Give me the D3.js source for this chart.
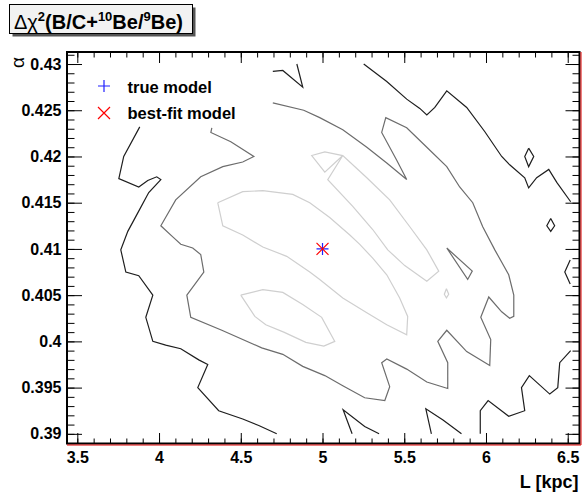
<!DOCTYPE html>
<html>
<head>
<meta charset="utf-8">
<script src="https://cdn.jsdelivr.net/npm/d3@7/dist/d3.min.js"></script>
<style>
body { margin: 0; background: #fff; }
text { font-family: "Liberation Sans", Arial, Helvetica, sans-serif; font-weight: bold; }
</style>
</head>
<body>
<div id="chart"></div>
<script>
// axis ticks
var xTicks = [3.5, 4, 4.5, 5, 5.5, 6, 6.5];
var xTickLabels = ["3.5", "4", "4.5", "5", "5.5", "6", "6.5"];
var yTicks = [0.39, 0.395, 0.4, 0.405, 0.41, 0.415, 0.42, 0.425, 0.43];
var yTickLabels = ["0.39", "0.395", "0.4", "0.405", "0.41", "0.415", "0.42", "0.425", "0.43"];

// models, [L, alpha]
var trueModel = [5.0, 0.41];
var bestFitModel = [5.0, 0.41];

// contour lines, [L, alpha]
var contoursOuter = [
  [[3.882,0.4232],[3.784,0.4200],[3.754,0.4176],[3.876,0.4167],[3.931,0.4174],[3.986,0.4178],[4.011,0.4175],[3.937,0.4161],[3.870,0.4139],[3.809,0.4119],[3.766,0.4099],[3.797,0.4075],[3.876,0.4071],[3.962,0.4050],[3.919,0.4026],[3.962,0.4000],[4.041,0.3996],[4.133,0.3992],[4.243,0.3980],[4.298,0.3975],[4.237,0.3950],[4.365,0.3925],[4.512,0.3916],[4.610,0.3909],[4.720,0.3900]],
  [[4.696,0.4292],[4.757,0.4293],[4.879,0.4275],[4.843,0.4300]],
  [[5.252,0.4300],[5.393,0.4281],[5.515,0.4262],[5.595,0.4252],[5.638,0.4245],[5.687,0.4253],[5.760,0.4271],[5.882,0.4253],[5.992,0.4227],[6.096,0.4200],[6.145,0.4191],[6.237,0.4177],[6.261,0.4166],[6.310,0.4177],[6.384,0.4186],[6.433,0.4172],[6.518,0.4151]],
  [[6.261,0.4209],[6.292,0.4200],[6.261,0.4189],[6.237,0.4200],[6.261,0.4209]],
  [[6.396,0.4133],[6.420,0.4125],[6.396,0.4119],[6.372,0.4125],[6.396,0.4133]],
  [[6.515,0.4088],[6.482,0.4075],[6.515,0.4062]],
  [[6.518,0.3990],[6.451,0.3977],[6.439,0.3950],[6.390,0.3943],[6.265,0.3963],[6.217,0.3950],[6.237,0.3925],[6.139,0.3919],[6.013,0.3936],[5.965,0.3925],[5.965,0.3900]],
  [[5.181,0.3900],[5.126,0.3926],[5.258,0.3908],[5.346,0.3900]],
  [[5.666,0.3900],[5.632,0.3927],[5.737,0.3915],[5.850,0.3900]]
];
var contoursMiddle = [
  [[4.323,0.4231],[4.317,0.4226],[4.439,0.4216],[4.580,0.4200],[4.512,0.4194],[4.390,0.4189],[4.255,0.4178],[4.102,0.4153],[4.011,0.4125],[4.084,0.4113],[4.133,0.4105],[4.206,0.4101],[4.255,0.4094],[4.274,0.4075],[4.170,0.4050],[4.194,0.4026],[4.384,0.4012],[4.628,0.3993],[4.757,0.3986],[4.879,0.3973],[5.014,0.3963],[5.124,0.3952],[5.258,0.3939],[5.381,0.3936],[5.411,0.3951],[5.362,0.3977],[5.393,0.3981],[5.515,0.3970],[5.638,0.3956],[5.766,0.3949],[5.766,0.3977],[5.705,0.4000],[5.760,0.4012],[5.882,0.3989],[6.023,0.3974],[6.029,0.4002],[5.968,0.4026],[6.017,0.4048],[6.096,0.4032],[6.145,0.4025],[6.170,0.4027],[6.170,0.4050],[6.139,0.4072],[6.054,0.4099],[5.980,0.4124],[5.919,0.4150],[5.839,0.4167],[5.760,0.4189],[5.638,0.4210],[5.515,0.4231],[5.387,0.4242],[5.362,0.4226],[5.454,0.4196],[5.515,0.4175],[5.393,0.4193],[5.271,0.4210],[5.124,0.4229],[4.983,0.4242],[4.885,0.4250],[4.696,0.4258]],
  [[5.760,0.4101],[5.916,0.4076],[5.888,0.4067],[5.760,0.4101]]
];
var contoursInner = [
  [[4.359,0.4150],[4.512,0.4162],[4.635,0.4163],[4.818,0.4159],[4.922,0.4150],[5.044,0.4134],[5.167,0.4115],[5.228,0.4105],[5.307,0.4090],[5.393,0.4072],[5.472,0.4047],[5.521,0.4027],[5.515,0.4007],[5.393,0.4018],[5.271,0.4031],[5.124,0.4047],[4.983,0.4067],[4.922,0.4075],[4.781,0.4092],[4.635,0.4102],[4.512,0.4115],[4.390,0.4125],[4.359,0.4150]],
  [[4.500,0.4050],[4.635,0.4056],[4.757,0.4053],[4.879,0.4040],[4.995,0.4026],[5.075,0.4000],[5.008,0.3995],[4.898,0.3999],[4.763,0.4010],[4.653,0.4018],[4.586,0.4027],[4.500,0.4050]],
  [[5.124,0.4201],[5.014,0.4183],[4.934,0.4201],[5.014,0.4205],[5.124,0.4201],[5.271,0.4177],[5.411,0.4153],[5.534,0.4124],[5.638,0.4099],[5.711,0.4076],[5.638,0.4065],[5.503,0.4082],[5.399,0.4099],[5.307,0.4121],[5.185,0.4146],[5.032,0.4175],[5.124,0.4201]],
  [[5.758,0.4057],[5.772,0.4051],[5.758,0.4047],[5.745,0.4051],[5.758,0.4057]]
];

var W = 585, H = 493;
var frame = {left: 67, right: 579.5, top: 52, bottom: 444};

var svg = d3.select("#chart")
  .append("svg")
  .attr("width", W)
  .attr("height", H);

svg.append("rect").attr("width", W).attr("height", H).attr("fill", "#fff");

var x = d3.scaleLinear()
  .domain([3.437, 6.572])
  .range([frame.left, frame.right]);

var y = d3.scaleLinear()
  .domain([0.3889, 0.4313])
  .range([frame.bottom, frame.top]);

var line = d3.line()
  .x(function(d) { return x(d[0]); })
  .y(function(d) { return y(d[1]); });

// contours, drawn from the outer level in
function drawLevel(data, color) {
  svg.append("g")
    .selectAll("path")
    .data(data)
    .enter().append("path")
    .attr("fill", "none")
    .attr("stroke", color)
    .attr("stroke-width", 1.2)
    .attr("stroke-linejoin", "miter")
    .attr("d", line);
}
drawLevel(contoursOuter, "#1e1e1e");
drawLevel(contoursMiddle, "#6c6c6c");
drawLevel(contoursInner, "#cfcfcf");

// minor ticks
var xMinor = d3.range(3.5, 6.55, 0.1).filter(function(v) { return v > x.domain()[0]; });
var yMinor = d3.range(0.389, 0.4312, 0.001);

function axisGroup(axis, tx, ty) {
  var g = svg.append("g")
    .attr("transform", "translate(" + tx + "," + ty + ")")
    .call(axis);
  g.select(".domain").remove();
  g.selectAll(".tick line").attr("stroke", "#000").attr("stroke-width", 1);
  return g;
}

// bottom / top
var gx = axisGroup(d3.axisBottom(x).tickValues(xTicks).tickSize(-11).tickPadding(7.5)
  .tickFormat(function(d, i) { return xTickLabels[i]; }), 0, frame.bottom);
gx.selectAll("text").attr("font-size", 16).attr("fill", "#000")
  .style("font-family", "Liberation Sans, Arial, sans-serif").style("font-weight", "bold");
axisGroup(d3.axisBottom(x).tickValues(xMinor).tickSize(-5.5).tickFormat(""), 0, frame.bottom);
axisGroup(d3.axisTop(x).tickValues(xTicks).tickSize(-11).tickFormat(""), 0, frame.top);
axisGroup(d3.axisTop(x).tickValues(xMinor).tickSize(-5.5).tickFormat(""), 0, frame.top);

// left / right
var gy = axisGroup(d3.axisLeft(y).tickValues(yTicks).tickSize(-15).tickPadding(5.5)
  .tickFormat(function(d, i) { return yTickLabels[i]; }), frame.left, 0);
gy.selectAll("text").attr("font-size", 16).attr("fill", "#000")
  .style("font-family", "Liberation Sans, Arial, sans-serif").style("font-weight", "bold");
axisGroup(d3.axisLeft(y).tickValues(yMinor).tickSize(-7.5).tickFormat(""), frame.left, 0);
axisGroup(d3.axisRight(y).tickValues(yTicks).tickSize(-14).tickFormat(""), frame.right, 0);
axisGroup(d3.axisRight(y).tickValues(yMinor).tickSize(-7).tickFormat(""), frame.right, 0);

// frame
svg.append("rect")
  .attr("x", frame.left)
  .attr("y", frame.top)
  .attr("width", frame.right - frame.left)
  .attr("height", frame.bottom - frame.top - 0.5)
  .attr("fill", "none")
  .attr("stroke", "#000")
  .attr("stroke-width", 2);

svg.append("path")
  .attr("d", "M" + frame.left + "," + (frame.bottom + 1) + " H" + (frame.right + 1.5) + " V" + frame.top)
  .attr("fill", "none")
  .attr("stroke", "#e00000")
  .attr("stroke-width", 1);

// markers
function plus(g, cx, cy, s, color) {
  g.append("path")
    .attr("d", "M" + (cx - s) + "," + cy + " H" + (cx + s) + " M" + cx + "," + (cy - s) + " V" + (cy + s))
    .attr("stroke", color).attr("stroke-width", 1.2).attr("fill", "none");
}
function cross(g, cx, cy, s, color) {
  g.append("path")
    .attr("d", "M" + (cx - s) + "," + (cy - s) + " L" + (cx + s) + "," + (cy + s) +
               " M" + (cx - s) + "," + (cy + s) + " L" + (cx + s) + "," + (cy - s))
    .attr("stroke", color).attr("stroke-width", 1.2).attr("fill", "none");
}
plus(svg, x(trueModel[0]), y(trueModel[1]), 6, "#2020ff");
cross(svg, x(bestFitModel[0]), y(bestFitModel[1]), 6, "#ff0000");

// legend
plus(svg, 104, 86, 6, "#2020ff");
cross(svg, 104, 113, 6, "#ff0000");
svg.append("text").attr("x", 127.5).attr("y", 92.5).attr("font-size", 16.5).text("true model");
svg.append("text").attr("x", 127.5).attr("y", 119).attr("font-size", 16.5).text("best-fit model");

// axis titles
svg.append("text")
  .attr("x", 578.5).attr("y", 487.5)
  .attr("text-anchor", "end")
  .attr("font-size", 18)
  .text("L [kpc]");

svg.append("text")
  .attr("transform", "translate(24,57) rotate(-90)")
  .attr("text-anchor", "end")
  .attr("font-size", 19)
  .style("font-weight", "normal")
  .text("\u03b1");

// title box
svg.append("rect").attr("x", 12.5).attr("y", 7.5).attr("width", 183).attr("height", 29).attr("fill", "#555");
svg.append("rect").attr("x", 9.5).attr("y", 4.5).attr("width", 183).attr("height", 29)
  .attr("fill", "#f2f2f2").attr("stroke", "#000").attr("stroke-width", 1);

var title = svg.append("text").attr("x", 14).attr("y", 28.5).attr("font-size", 20);
title.append("tspan").style("font-weight", "normal").text("\u0394\u03c7");
title.append("tspan").attr("font-size", 13).attr("dy", -8).text("2");
title.append("tspan").attr("dy", 8).text("(B/C+");
title.append("tspan").attr("font-size", 13).attr("dy", -8).text("10");
title.append("tspan").attr("dy", 8).text("Be/");
title.append("tspan").attr("font-size", 13).attr("dy", -8).text("9");
title.append("tspan").attr("dy", 8).text("Be)");
</script>
</body>
</html>
